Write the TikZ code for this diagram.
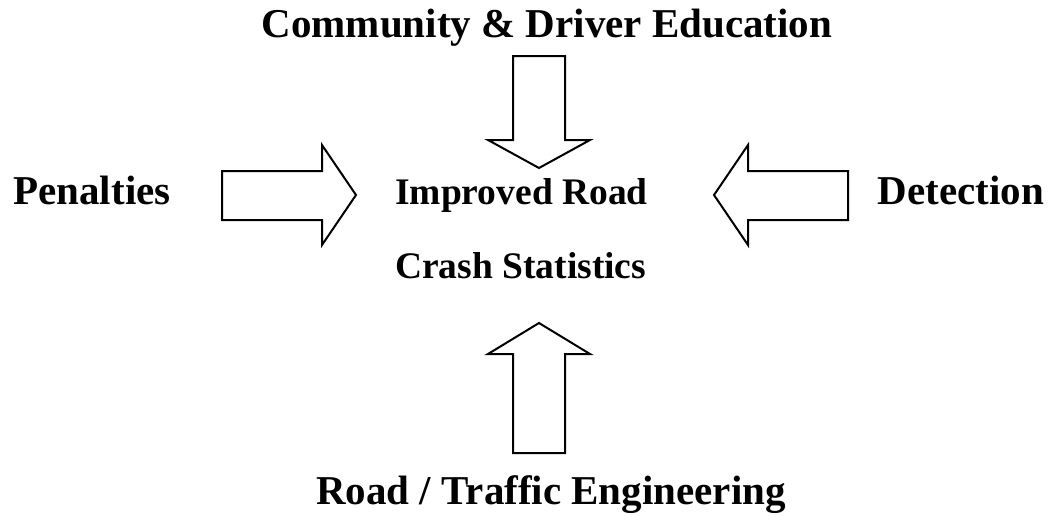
\documentclass[tikz,border=0pt]{standalone}
\usepackage{fontspec}
\setmainfont{Liberation Serif}
\usepackage{tikz}

\begin{document}
\begin{tikzpicture}[x=1pt,y=-1pt]
\tikzstyle{every node}+=[inner sep=0pt]
\tikzstyle{bigtext}=[font=\bfseries\fontsize{41}{41}\selectfont, anchor=base]
\tikzstyle{midtext}=[font=\bfseries\fontsize{37.5}{37.5}\selectfont, anchor=base west]
\tikzstyle{blockarrow}=[draw=black, fill=white, line width=2pt]
\useasboundingbox (0,0) rectangle (1052,515);
\draw (547,37) node [bigtext] (education) {Community \& Driver Education};
\draw (92,204) node [bigtext] (penalties) {Penalties};
\draw (961,204) node [bigtext] (detection) {Detection};
\draw (551,504) node [bigtext] (engineering) {Road / Traffic Engineering};
\draw (395,204) node [midtext] (improved) {Improved Road};
\draw (395,278) node [midtext] (crash) {Crash Statistics};
\draw [blockarrow] (513,56) -- (565,56) -- (565,140) -- (590,140) -- (539,168) -- (488,140) -- (513,140) -- cycle;
\draw [blockarrow] (222,171) -- (322,171) -- (322,145) -- (356,195) -- (322,245) -- (322,220) -- (222,220) -- cycle;
\draw [blockarrow] (848,171) -- (748,171) -- (748,145) -- (714,195) -- (748,245) -- (748,220) -- (848,220) -- cycle;
\draw [blockarrow] (513,453) -- (565,453) -- (565,354) -- (590,354) -- (539,323) -- (488,354) -- (513,354) -- cycle;
\end{tikzpicture}
\end{document}
